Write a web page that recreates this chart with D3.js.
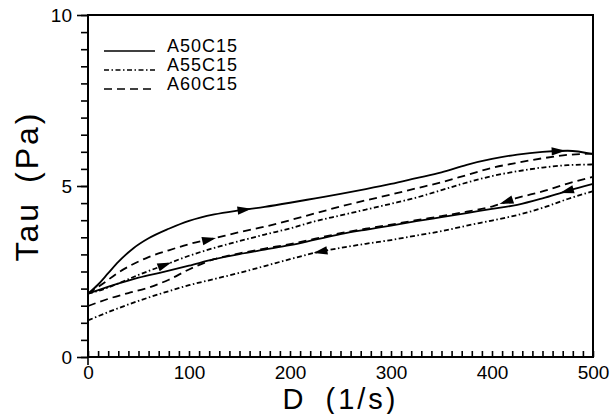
<!DOCTYPE html>
<html lang="en">
<head>
    <meta charset="UTF-8">
    <title>Tau vs D</title>
</head>
<style>
    body { margin: 0; background: #fff; }
    text { font-family: "Liberation Sans", Arial, sans-serif; fill: #000; }
    .curve { fill: none; stroke: #000; stroke-width: 1.8px; }
</style>
<body>
<script src="https://cdn.jsdelivr.net/npm/d3@7/dist/d3.min.js"></script>
<script>
    const width = 613, height = 414;
    const margin = {top: 15, right: 20, bottom: 57, left: 88};

    // A50C15 (solid)
    const a50UpD = [0, 10, 20, 30, 45, 60, 80, 100, 125, 150, 175, 200, 225, 250, 275, 300, 325, 350, 375, 400, 425, 450, 475, 500];
    const a50UpTau = [1.85, 2.12, 2.45, 2.78, 3.18, 3.47, 3.75, 3.98, 4.17, 4.29, 4.39, 4.51, 4.64, 4.77, 4.91, 5.06, 5.23, 5.40, 5.62, 5.79, 5.92, 6.00, 6.03, 5.93];
    const a50DownD = [0, 25, 50, 75, 100, 125, 150, 175, 200, 225, 250, 275, 300, 325, 350, 375, 400, 425, 450, 475, 500];
    const a50DownTau = [1.85, 2.10, 2.32, 2.49, 2.67, 2.86, 3.01, 3.14, 3.27, 3.43, 3.59, 3.72, 3.84, 3.97, 4.09, 4.21, 4.33, 4.45, 4.64, 4.86, 5.06];

    // A55C15 (dash-dot)
    const a55UpD = [0, 15, 30, 50, 75, 100, 125, 150, 175, 200, 225, 250, 275, 300, 325, 350, 375, 400, 425, 450, 475, 500];
    const a55UpTau = [1.85, 1.98, 2.15, 2.40, 2.68, 2.96, 3.19, 3.39, 3.58, 3.76, 3.97, 4.14, 4.31, 4.48, 4.66, 4.88, 5.10, 5.29, 5.43, 5.54, 5.61, 5.63];
    const a55DownD = [0, 25, 50, 75, 100, 125, 150, 175, 200, 225, 250, 275, 300, 325, 350, 375, 400, 425, 450, 475, 500];
    const a55DownTau = [1.07, 1.37, 1.64, 1.88, 2.10, 2.28, 2.46, 2.66, 2.86, 3.05, 3.19, 3.31, 3.42, 3.55, 3.68, 3.84, 3.99, 4.15, 4.36, 4.62, 4.85];

    // A60C15 (dashed)
    const a60UpD = [0, 15, 30, 45, 60, 80, 100, 125, 150, 175, 200, 225, 250, 275, 300, 325, 350, 375, 400, 425, 450, 475, 500];
    const a60UpTau = [1.85, 2.15, 2.47, 2.72, 2.92, 3.12, 3.30, 3.47, 3.65, 3.81, 4.00, 4.20, 4.40, 4.58, 4.75, 4.93, 5.11, 5.32, 5.53, 5.68, 5.81, 5.91, 5.95];
    const a60DownD = [0, 20, 40, 60, 80, 100, 125, 150, 175, 200, 225, 250, 275, 300, 325, 350, 375, 400, 425, 450, 475, 500];
    const a60DownTau = [1.49, 1.70, 1.87, 2.03, 2.26, 2.56, 2.86, 3.03, 3.17, 3.30, 3.46, 3.62, 3.75, 3.87, 4.00, 4.12, 4.25, 4.40, 4.65, 4.84, 5.07, 5.27];

    const seriesNames = ["A50C15", "A55C15", "A60C15"];
    const dashes = {"A50C15": null, "A55C15": "5,2.5,1.5,2.5", "A60C15": "8,5"};

    const curves = [
        {name: "A50C15", d: a50UpD, tau: a50UpTau},
        {name: "A50C15", d: a50DownD, tau: a50DownTau},
        {name: "A55C15", d: a55UpD, tau: a55UpTau},
        {name: "A55C15", d: a55DownD, tau: a55DownTau},
        {name: "A60C15", d: a60UpD, tau: a60UpTau},
        {name: "A60C15", d: a60DownD, tau: a60DownTau}
    ];

    // arrow heads: curve index, D position, direction (+1 right, -1 left)
    const arrows = [
        {c: 0, at: 155, dir: 1}, {c: 0, at: 466, dir: 1},
        {c: 4, at: 120, dir: 1},
        {c: 2, at: 76, dir: 1},
        {c: 1, at: 474, dir: -1},
        {c: 5, at: 414, dir: -1},
        {c: 3, at: 230, dir: -1}
    ];

    const xTicks = [0, 100, 200, 300, 400, 500];
    const yTicks = [0, 5, 10];

    const svg = d3.select("body").append("svg")
        .attr("width", width)
        .attr("height", height);

    const x = d3.scaleLinear().domain([0, 500]).range([margin.left, width - margin.right]);
    const y = d3.scaleLinear().domain([0, 10]).range([height - margin.bottom, margin.top]);

    // axes
    const yMinor = svg.append("g").attr("transform", `translate(${margin.left},0)`)
        .call(d3.axisLeft(y).tickValues(d3.range(0, 10.01, 0.5)).tickSize(7).tickFormat(""));
    const yMajor = svg.append("g").attr("transform", `translate(${margin.left},0)`)
        .call(d3.axisLeft(y).tickValues(yTicks).tickSize(11).tickPadding(5));
    const xMinor = svg.append("g").attr("transform", `translate(0,${y(0)})`)
        .call(d3.axisBottom(x).tickValues(d3.range(0, 501, 10)).tickSize(-6).tickFormat(""));
    const xMajor = svg.append("g").attr("transform", `translate(0,${y(0)})`)
        .call(d3.axisBottom(x).tickValues(xTicks).tickSize(0).tickPadding(9));

    [yMinor, yMajor, xMinor, xMajor].forEach(function (g) {
        g.select(".domain").remove();
        g.selectAll("line").attr("stroke", "#000").attr("stroke-width", 1.6);
        g.selectAll("text").style("font-size", "19px").attr("fill", "#000");
    });

    svg.append("rect")
        .attr("x", x(0)).attr("y", y(10))
        .attr("width", x(500) - x(0)).attr("height", y(0) - y(10))
        .attr("fill", "none").attr("stroke", "#000").attr("stroke-width", 2);
    svg.append("line")
        .attr("x1", x(0)).attr("x2", x(0)).attr("y1", y(0)).attr("y2", y(0) + 8)
        .attr("stroke", "#000").attr("stroke-width", 1.6);

    // curves
    const line = d3.line()
        .x(function (p) { return x(p[0]); })
        .y(function (p) { return y(p[1]); })
        .curve(d3.curveMonotoneX);

    curves.forEach(function (c) {
        svg.append("path")
            .attr("class", "curve")
            .attr("d", line(d3.zip(c.d, c.tau)))
            .attr("stroke-dasharray", dashes[c.name]);
    });

    function tauAt(c, v) {
        const i = Math.max(1, Math.min(c.d.length - 1, d3.bisectLeft(c.d, v)));
        const t = (v - c.d[i - 1]) / (c.d[i] - c.d[i - 1]);
        return c.tau[i - 1] + t * (c.tau[i] - c.tau[i - 1]);
    }

    arrows.forEach(function (a) {
        const c = curves[a.c];
        const px = x(a.at), py = y(tauAt(c, a.at));
        const qx = x(a.at + 4), qy = y(tauAt(c, a.at + 4));
        let ang = Math.atan2(qy - py, qx - px) * 180 / Math.PI;
        if (a.dir < 0) ang += 180;
        svg.append("path")
            .attr("d", "M7,0L-7,-4.2L-7,4.2Z")
            .attr("transform", `translate(${px},${py}) rotate(${ang})`)
            .attr("fill", "#000");
    });

    // legend
    const legend = svg.append("g");
    seriesNames.forEach(function (n, i) {
        const ly = 51 + i * 19;
        legend.append("line")
            .attr("x1", 104).attr("x2", 155).attr("y1", ly).attr("y2", ly)
            .attr("stroke", "#000").attr("stroke-width", 1.5)
            .attr("stroke-dasharray", dashes[n]);
        legend.append("text")
            .attr("x", 167).attr("y", ly + 1)
            .style("font-size", "18px")
            .style("letter-spacing", "1px")
            .text(n);
    });

    // axis titles
    svg.append("text")
        .attr("transform", `translate(38,${(y(0) + y(10)) / 2}) rotate(-90)`)
        .attr("text-anchor", "middle")
        .style("font-size", "32px")
        .style("letter-spacing", "3px")
        .style("word-spacing", "6px")
        .text("Tau (Pa)");
    svg.append("text")
        .attr("x", (x(0) + x(500)) / 2)
        .attr("y", 409)
        .attr("text-anchor", "middle")
        .style("font-size", "29px")
        .style("letter-spacing", "3px")
        .style("word-spacing", "8px")
        .text("D (1/s)");
</script>
</body>
</html>
